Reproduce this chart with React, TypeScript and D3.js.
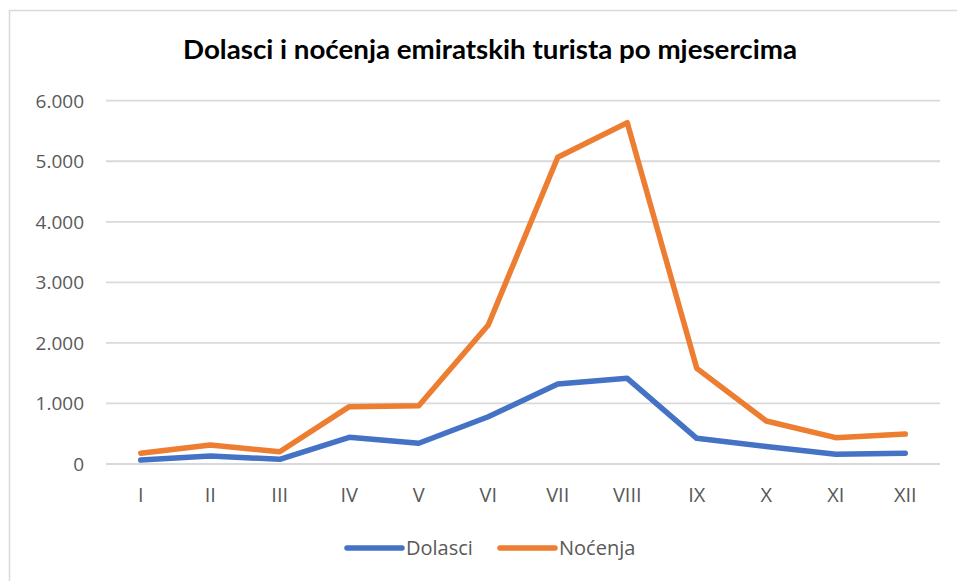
import React from "react";
import * as d3 from "d3";

const months = ["I", "II", "III", "IV", "V", "VI", "VII", "VIII", "IX", "X", "XI", "XII"];
const dolasci = [66, 132, 77, 441, 342, 780, 1320, 1415, 424, 290, 160, 177];
const nocenja = [177, 314, 203, 947, 963, 2296, 5065, 5637, 1580, 710, 435, 495];
const yTicks = [0, 1000, 2000, 3000, 4000, 5000, 6000];
const title = "Dolasci i noćenja emiratskih turista po mjesercima";
const seriesNames = ["Dolasci", "Noćenja"];
const colors = ["#4472C4", "#ED7D31"];

const W = 957;
const H = 581;

export default function App() {
  const x = d3.scaleBand<string>().domain(months).range([106, 940]).padding(0);
  const y = d3.scaleLinear().domain([0, 6000]).range([464, 100.7]);
  const fmt = (v: number) => d3.format(",")(v).replace(/,/g, ".");
  const line = d3
    .line<number>()
    .x((_, i) => (x(months[i]) as number) + x.bandwidth() / 2)
    .y((d) => y(d));
  const series = [dolasci, nocenja];
  const textColor = "#595959";
  const font = "Open Sans, DejaVu Sans, sans-serif";

  const legendItems = [
    { x1: 347, x2: 402, tx: 406 },
    { x1: 500, x2: 555, tx: 559 },
  ];

  return (
    <svg
      width={W}
      height={H}
      style={{ position: "absolute", left: 0, top: 0, background: "#fff" }}
    >
      <rect x={0} y={0} width={W} height={H} fill="#fff" />
      <path d={`M9.5,${H + 5} V10.5 H${W + 5}`} fill="none" stroke="#d9d9d9" strokeWidth={1.5} />
      <text
        x={490}
        y={59}
        textAnchor="middle"
        fontFamily="Lato, Liberation Sans, sans-serif"
        fontWeight="bold"
        fontSize={27}
        fill="#000"
        textLength={614}
        lengthAdjust="spacingAndGlyphs"
      >
        {title}
      </text>
      {yTicks.map((t) => (
        <g key={t}>
          <line x1={106} x2={940} y1={y(t)} y2={y(t)} stroke="#d9d9d9" strokeWidth={1.8} />
          <text
            x={84}
            y={y(t) + 7}
            textAnchor="end"
            fontFamily={font}
            fontSize={19}
            fill={textColor}
          >
            {fmt(t)}
          </text>
        </g>
      ))}
      {months.map((m) => (
        <text
          key={m}
          x={(x(m) as number) + x.bandwidth() / 2}
          y={502}
          textAnchor="middle"
          fontFamily={font}
          fontSize={20}
          fill={textColor}
        >
          {m}
        </text>
      ))}
      {series.map((s, i) => (
        <path
          key={i}
          d={line(s) as string}
          fill="none"
          stroke={colors[i]}
          strokeWidth={5.5}
          strokeLinejoin="round"
          strokeLinecap="round"
        />
      ))}
      {legendItems.map((l, i) => (
        <g key={i}>
          <line x1={l.x1} x2={l.x2} y1={548} y2={548} stroke={colors[i]} strokeWidth={5.5} strokeLinecap="round" />
          <text x={l.tx} y={555} fontFamily={font} fontSize={20} fill={textColor}>
            {seriesNames[i]}
          </text>
        </g>
      ))}
    </svg>
  );
}
